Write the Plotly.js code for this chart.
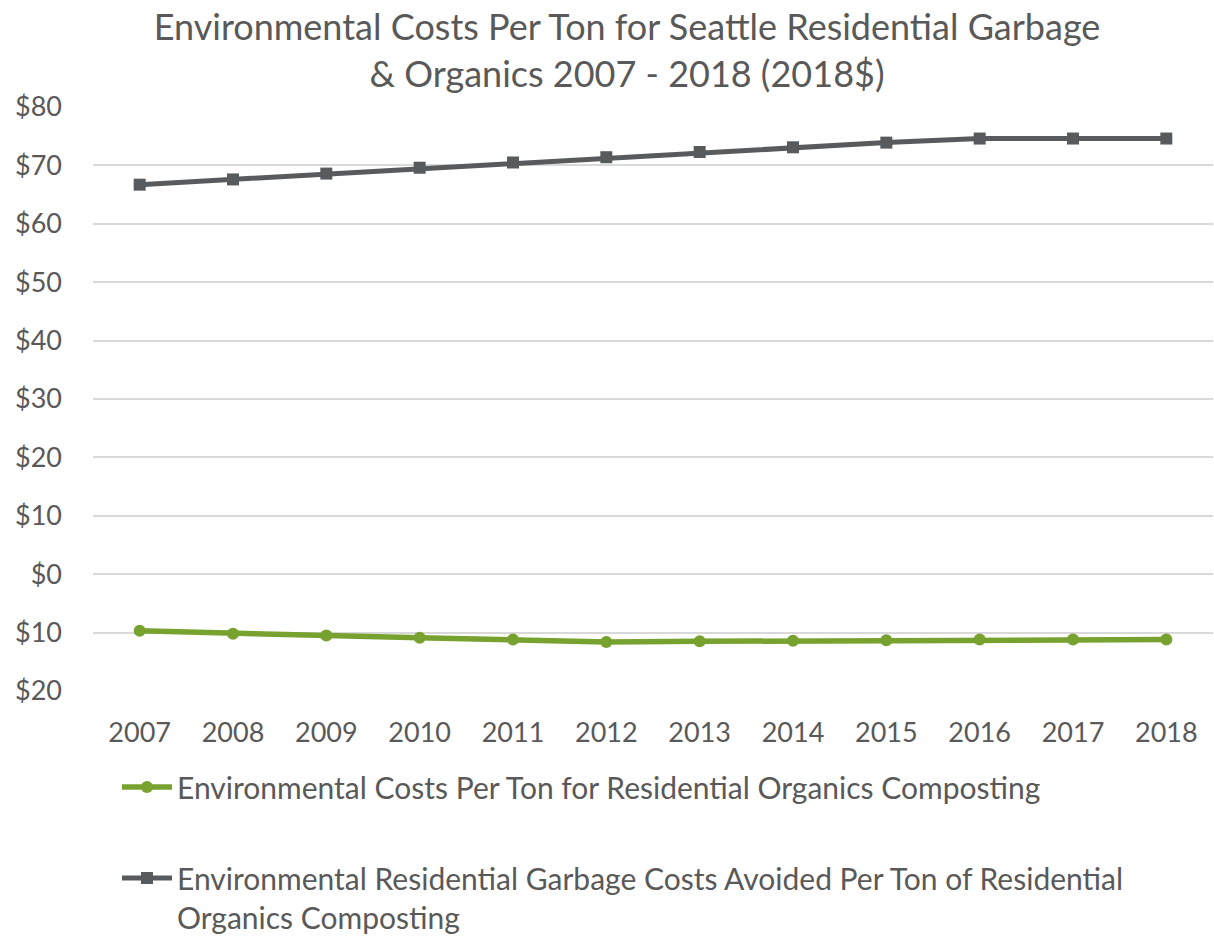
<!DOCTYPE html>
<html>
<head>
<meta charset="utf-8">
<script src="https://cdn.plot.ly/plotly-3.0.1.min.js"></script>
<style>html,body{margin:0;padding:0;background:#fff;}#chart{width:1214px;height:937px;}</style>
</head>
<body>
<div id="chart"></div>
<script>
const years = ["2007","2008","2009","2010","2011","2012","2013","2014","2015","2016","2017","2018"];
const organicsCosts = [-9.7, -10.2, -10.5, -10.9, -11.2, -11.6, -11.5, -11.4, -11.3, -11.2, -11.2, -11.2];
const garbageAvoided = [66.7, 67.6, 68.6, 69.6, 70.5, 71.4, 72.3, 73.1, 73.9, 74.6, 74.6, 74.6];
const yTickVals = [-20, -10, 0, 10, 20, 30, 40, 50, 60, 70, 80];
const yTickText = ["$20", "$10", "$0", "$10", "$20", "$30", "$40", "$50", "$60", "$70", "$80"];
const seriesNames = [
  "Environmental Costs Per Ton for Residential Organics Composting",
  "Environmental Residential Garbage Costs Avoided Per Ton of Residential<br>Organics Composting"
];
const titleText = "Environmental Costs Per Ton for Seattle Residential Garbage<br>&amp; Organics 2007 - 2018 (2018$)";

const FONT = "Lato, 'Open Sans', sans-serif";
const TXT = "#595959";

const traces = [
  {
    x: years, y: organicsCosts, name: seriesNames[0], type: "scatter", mode: "lines+markers",
    line: {color: "#77A22F", width: 5.5}, marker: {symbol: "circle", size: 12, color: "#77A22F"},
    legendgroup: "a"
  },
  {
    x: years, y: garbageAvoided, name: seriesNames[1], type: "scatter", mode: "lines+markers",
    line: {color: "#575B5E", width: 5}, marker: {symbol: "square", size: 12, color: "#575B5E"},
    legendgroup: "b"
  }
];

const layout = {
  width: 1214, height: 937,
  paper_bgcolor: "#fff", plot_bgcolor: "#fff",
  margin: {l: 93, r: 1, t: 107, b: 245.5, autoexpand: false},
  font: {family: FONT, color: TXT, size: 27},
  title: {
    text: titleText, font: {family: FONT, size: 36, color: TXT},
    xref: "container", x: 627/1214, xanchor: "center",
    yref: "container", y: 1 - 40/937, yanchor: "top"
  },
  xaxis: {
    type: "category", range: [-0.5, 11.5], showgrid: false, zeroline: false,
    showline: false, ticks: "", ticklabelstandoff: 23, tickangle: 0,
    tickfont: {family: FONT, size: 27, color: TXT}, fixedrange: true
  },
  yaxis: {
    range: [-20, 80], tickvals: yTickVals, ticktext: yTickText,
    showgrid: true, gridcolor: "#D9D9D9", gridwidth: 2, zeroline: false, showline: false,
    ticks: "", ticklabelstandoff: 30,
    tickfont: {family: FONT, size: 27, color: TXT}, fixedrange: true
  },
  showlegend: true,
  legend: {
    orientation: "v", xref: "container", yref: "container",
    x: 117/1214, xanchor: "left", y: 1 - 761/937, yanchor: "top",
    font: {family: FONT, size: 30, color: TXT},
    tracegroupgap: 49, traceorder: "grouped", itemwidth: 50, valign: "top",
    bgcolor: "rgba(0,0,0,0)"
  }
};

Plotly.newPlot("chart", traces, layout, {displayModeBar: false, staticPlot: true});
</script>
</body>
</html>
